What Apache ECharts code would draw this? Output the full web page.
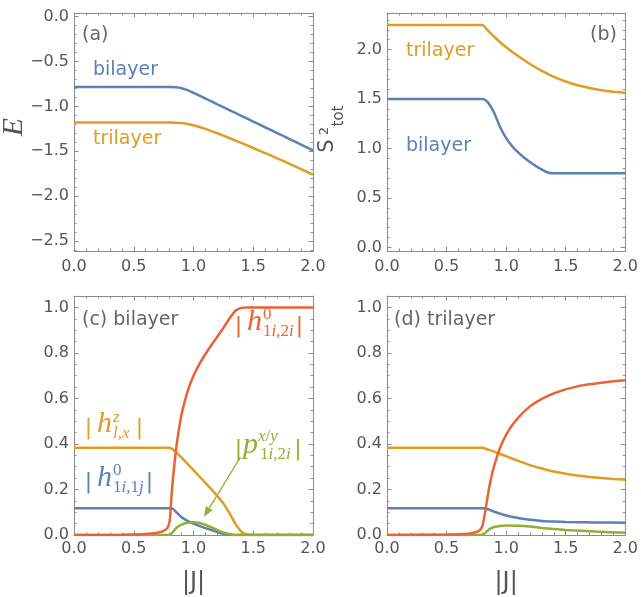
<!DOCTYPE html>
<html>
<head>
<meta charset="utf-8">
<script src="https://cdn.jsdelivr.net/npm/echarts@6/dist/echarts.min.js"></script>
<style>
html, body { margin: 0; padding: 0; background: #fff; }
#chart { width: 641px; height: 597px; }
</style>
</head>
<body>
<div id="chart"></div>
<script>
// tick labels
const jTicks = [0, 0.5, 1, 1.5, 2];
const eTicks = [-2.5, -2, -1.5, -1, -0.5, 0];
const sTicks = [0, 0.5, 1, 1.5, 2];
const hTicks = [0, 0.2, 0.4, 0.6, 0.8, 1];

// (a) energy E vs |J|
const eBilayer = [[0,-0.785],[0.8,-0.785],[0.85,-0.788],[0.9,-0.797],[0.95,-0.818],[1.0,-0.848],[1.1,-0.912],[1.2,-0.977],[1.3,-1.041],[1.4,-1.105],[1.5,-1.169],[1.6,-1.233],[1.7,-1.297],[1.8,-1.361],[1.9,-1.425],[2.0,-1.49]];
const eTrilayer = [[0,-1.18],[0.8,-1.18],[0.85,-1.181],[0.9,-1.186],[0.95,-1.196],[1.0,-1.21],[1.1,-1.25],[1.2,-1.299],[1.3,-1.352],[1.4,-1.407],[1.5,-1.463],[1.6,-1.52],[1.7,-1.578],[1.8,-1.637],[1.9,-1.698],[2.0,-1.76]];

// (b) S^2 tot
const sBilayer = [[0,1.5],[0.8,1.5],[0.83,1.487],[0.86,1.445],[0.9,1.36],[0.95,1.215],[1.0,1.105],[1.05,1.025],[1.1,0.962],[1.15,0.91],[1.2,0.864],[1.25,0.823],[1.3,0.787],[1.35,0.758],[1.4,0.75],[2.0,0.75]];
const sTrilayer = [[0,2.25],[0.8,2.25],[0.85,2.19],[0.9,2.13],[0.95,2.075],[1.0,2.025],[1.1,1.935],[1.2,1.855],[1.3,1.785],[1.4,1.725],[1.5,1.678],[1.6,1.64],[1.7,1.612],[1.8,1.59],[1.9,1.575],[2.0,1.563]];

// (c) bilayer order parameters
const cH2i = [[0,0],[0.4,0.001],[0.6,0.004],[0.7,0.01],[0.75,0.018],[0.78,0.03],[0.8,0.06],[0.81,0.12],[0.82,0.2],[0.84,0.31],[0.86,0.4],[0.88,0.47],[0.9,0.53],[0.95,0.63],[1.0,0.7],[1.05,0.752],[1.1,0.795],[1.15,0.835],[1.2,0.872],[1.25,0.91],[1.3,0.95],[1.35,0.985],[1.4,0.998],[1.45,1.0],[2.0,1.0]];
const cHz = [[0,0.383],[0.8,0.383],[0.83,0.375],[0.86,0.361],[0.9,0.34],[1.0,0.285],[1.1,0.229],[1.2,0.171],[1.25,0.138],[1.3,0.097],[1.35,0.05],[1.4,0.015],[1.45,0.002],[1.5,0],[2.0,0]];
const cH1j = [[0,0.118],[0.8,0.118],[0.83,0.114],[0.86,0.098],[0.9,0.078],[0.95,0.062],[1.0,0.05],[1.1,0.03],[1.2,0.013],[1.25,0.005],[1.3,0],[2.0,0]];
const cP = [[0,0],[0.8,0],[0.83,0.015],[0.86,0.033],[0.9,0.046],[0.95,0.054],[1.0,0.056],[1.05,0.053],[1.1,0.045],[1.15,0.034],[1.2,0.022],[1.25,0.011],[1.3,0.004],[1.35,0],[2.0,0]];

// (d) trilayer order parameters
const dH2i = [[0,0],[0.5,0.002],[0.6,0.003],[0.7,0.007],[0.75,0.013],[0.78,0.022],[0.8,0.038],[0.82,0.09],[0.84,0.155],[0.86,0.215],[0.88,0.265],[0.9,0.305],[0.95,0.385],[1.0,0.44],[1.05,0.482],[1.1,0.515],[1.2,0.565],[1.3,0.598],[1.4,0.622],[1.5,0.64],[1.6,0.653],[1.7,0.662],[1.8,0.669],[1.9,0.675],[2.0,0.68]];
const dHz = [[0,0.383],[0.8,0.383],[0.85,0.375],[0.9,0.366],[1.0,0.346],[1.1,0.326],[1.2,0.307],[1.3,0.292],[1.4,0.279],[1.5,0.269],[1.6,0.261],[1.7,0.255],[1.8,0.25],[1.9,0.246],[2.0,0.243]];
const dH1j = [[0,0.118],[0.8,0.118],[0.85,0.113],[0.9,0.102],[1.0,0.086],[1.1,0.075],[1.2,0.067],[1.3,0.062],[1.4,0.059],[1.5,0.057],[1.75,0.055],[2.0,0.054]];
const dP = [[0,0],[0.8,0],[0.83,0.012],[0.86,0.026],[0.9,0.035],[0.95,0.04],[1.0,0.042],[1.1,0.041],[1.2,0.037],[1.3,0.031],[1.4,0.026],[1.5,0.022],[1.75,0.015],[2.0,0.01]];

const BLUE = '#5E81B5', ORANGE = '#E19C24', GREEN = '#8FB032', RED = '#EB6235';
const FRAME = '#8c8c8c', TXT = '#555';

function fmt(v) { return v.toFixed(1).replace('-', '\u2212'); }
function steps(lo, hi, step) {
  const out = [];
  for (let v = lo; v <= hi + 1e-9; v += step) out.push(+v.toFixed(3));
  return out;
}

// 4 axes per direction: labelled major, minor, mirrored major, mirrored minor
function axisSet(dim, grid, min, max, majors, minors, margin, extra) {
  const lo = dim === 'x' ? 'bottom' : 'left';
  const hi = dim === 'x' ? 'top' : 'right';
  const mk = (pos, ticks, len, main, label) => Object.assign({
    type: 'value', gridIndex: grid, min: min, max: max, position: pos,
    splitLine: { show: false },
    axisLine: { show: main, onZero: false, lineStyle: { color: FRAME, width: 1 } },
    axisTick: { show: true, inside: true, length: len, customValues: ticks, lineStyle: { color: FRAME, width: 1 } },
    axisLabel: label ? { show: true, customValues: majors, formatter: fmt, margin: margin,
      color: TXT, fontSize: 16, fontFamily: 'DejaVu Sans' } : { show: false }
  }, label ? extra : {});
  return [mk(lo, majors, 4.5, true, true), mk(lo, minors, 2.5, false, false),
          mk(hi, majors, 4.5, true, false), mk(hi, minors, 2.5, false, false)];
}

const jName = { name: '|J|', nameLocation: 'middle', nameGap: 36,
  nameTextStyle: { fontSize: 24, color: TXT, fontFamily: 'DejaVu Sans' } };

const xAxes = [].concat(
  axisSet('x', 0, 0, 2, jTicks, steps(0, 2, 0.1), 8, {}),
  axisSet('x', 1, 0, 2, jTicks, steps(0, 2, 0.1), 8, {}),
  axisSet('x', 2, 0, 2, jTicks, steps(0, 2, 0.1), 6, jName),
  axisSet('x', 3, 0, 2, jTicks, steps(0, 2, 0.1), 6, jName)
);
const yAxes = [].concat(
  axisSet('y', 0, -2.61, 0.04, eTicks, steps(-2.6, 0, 0.1), 5, {}),
  axisSet('y', 1, -0.035, 2.37, sTicks, steps(0, 2.3, 0.1), 5, {}),
  axisSet('y', 2, 0, 1.05, hTicks, steps(0, 1.05, 0.05), 5, {}),
  axisSet('y', 3, 0, 1.05, hTicks, steps(0, 1.05, 0.05), 5, {})
);

function line(grid, data, color) {
  return {
    type: 'line', xAxisIndex: grid * 4, yAxisIndex: grid * 4, data: data,
    showSymbol: false, smooth: 0.2,
    lineStyle: { width: 2.5, color: color }, itemStyle: { color: color }, silent: true
  };
}

const series = [
  line(0, eBilayer, BLUE), line(0, eTrilayer, ORANGE),
  line(1, sBilayer, BLUE), line(1, sTrilayer, ORANGE),
  line(2, cH1j, BLUE), line(2, cHz, ORANGE), line(2, cP, GREEN), line(2, cH2i, RED),
  line(3, dH1j, BLUE), line(3, dHz, ORANGE), line(3, dP, GREEN), line(3, dH2i, RED)
];

function txt(t, x, y, color, size, extra) {
  return Object.assign({ type: 'text', x: x, y: y, silent: true,
    style: { text: t, fill: color, fontSize: size || 19, fontFamily: 'DejaVu Sans',
      align: 'left', verticalAlign: 'middle' } }, extra || {});
}

// rich script: digits and punctuation upright, letters italic
function script(s, color, size) {
  const parts = s.split(/([A-Za-z]+)/).filter(p => p.length);
  return {
    text: parts.map(p => /[A-Za-z]/.test(p) ? '{i|' + p + '}' : '{u|' + p + '}').join(''),
    rich: {
      u: { fontSize: size, fontFamily: 'Liberation Serif', fill: color },
      i: { fontSize: size, fontFamily: 'Liberation Serif', fontStyle: 'italic', fill: color }
    },
    align: 'left', verticalAlign: 'middle'
  };
}

// |X^sup_sub| label; x0 = left of first bar, base = baseline of the letter
function absLabel(x0, base, color, letter, sup, sub, o) {
  const bar = (x) => ({ type: 'text', x: x, y: base - 7, silent: true,
    style: { text: '|', fill: color, fontSize: 22, fontFamily: 'DejaVu Sans', align: 'center', verticalAlign: 'middle' } });
  return [
    bar(x0 + 1.5),
    { type: 'text', x: x0 + o.lx, y: base - 10.5, silent: true,
      style: { text: letter, fill: color, fontSize: 30, fontFamily: 'Liberation Serif', fontStyle: 'italic', align: 'left', verticalAlign: 'middle' } },
    { type: 'text', x: x0 + o.supX, y: base + o.supY, silent: true, style: script(sup, color, 17) },
    { type: 'text', x: x0 + o.subX, y: base - 1.5, silent: true, style: script(sub, color, 17) },
    bar(x0 + o.bar2)
  ];
}

const hOpt = { lx: 10, supX: 26, supY: -18, subX: 26, bar2: 62.5 };

const ax = 240.5, ay = 457, tx = 204, ty = 516.7;
const ux = (tx - ax) / Math.hypot(tx - ax, ty - ay), uy = (ty - ay) / Math.hypot(tx - ax, ty - ay);
const bx = tx - 10 * ux, by = ty - 10 * uy;

const graphic = [
  txt('(a)', 82, 35, '#666'),
  txt('bilayer', 93, 70, BLUE),
  txt('trilayer', 93, 139, ORANGE),
  txt('(b)', 590, 35, '#666'),
  txt('trilayer', 406, 51, ORANGE),
  txt('bilayer', 406, 146, BLUE),
  txt('(c) bilayer', 82, 320, '#666'),
  txt('(d) trilayer', 394, 320, '#666'),
  { type: 'text', x: 14, y: 127, rotation: Math.PI / 2, silent: true,
    style: { text: 'E', fill: TXT, fontSize: 30, fontFamily: 'Liberation Serif', fontStyle: 'italic', align: 'center', verticalAlign: 'middle' } },
  txt('S', 328, 146, TXT, 21, { rotation: Math.PI / 2 }),
  txt('2', 325, 131, TXT, 13, { rotation: Math.PI / 2 }),
  txt('tot', 339, 116, TXT, 15, { rotation: Math.PI / 2 }),
  { type: 'polyline', silent: true, shape: { points: [[ax, ay], [bx, by]] }, style: { stroke: GREEN, lineWidth: 1.3 } },
  { type: 'polygon', silent: true,
    shape: { points: [[tx, ty], [bx + 4 * uy, by - 4 * ux], [bx - 4 * uy, by + 4 * ux]] },
    style: { fill: GREEN } }
].concat(
  absLabel(237, 333, RED, 'h', '0', '1i,2i', hOpt),
  absLabel(87, 489, BLUE, 'h', '0', '1i,1j', hOpt),
  absLabel(87, 435, ORANGE, 'h', 'z', 'l,x', { lx: 10, supX: 26, supY: -17, subX: 26, bar2: 52.5 }),
  absLabel(237, 456, GREEN, 'p', 'x/y', '1i,2i', { lx: 6, supX: 21, supY: -19, subX: 23, bar2: 61 })
);

// center the S label pieces (txt defaults to left align)
graphic.forEach(g => { if (g.rotation && g.style.fontFamily === 'DejaVu Sans') g.style.align = 'center'; });

const chart = echarts.init(document.getElementById('chart'));
chart.setOption({
  animation: false,
  backgroundColor: '#fff',
  grid: [
    { left: 74, top: 13, width: 239, height: 238 },
    { left: 387, top: 13, width: 239, height: 238 },
    { left: 74, top: 296, width: 239, height: 239 },
    { left: 387, top: 296, width: 239, height: 239 }
  ],
  xAxis: xAxes,
  yAxis: yAxes,
  series: series,
  graphic: graphic
});
</script>
</body>
</html>
